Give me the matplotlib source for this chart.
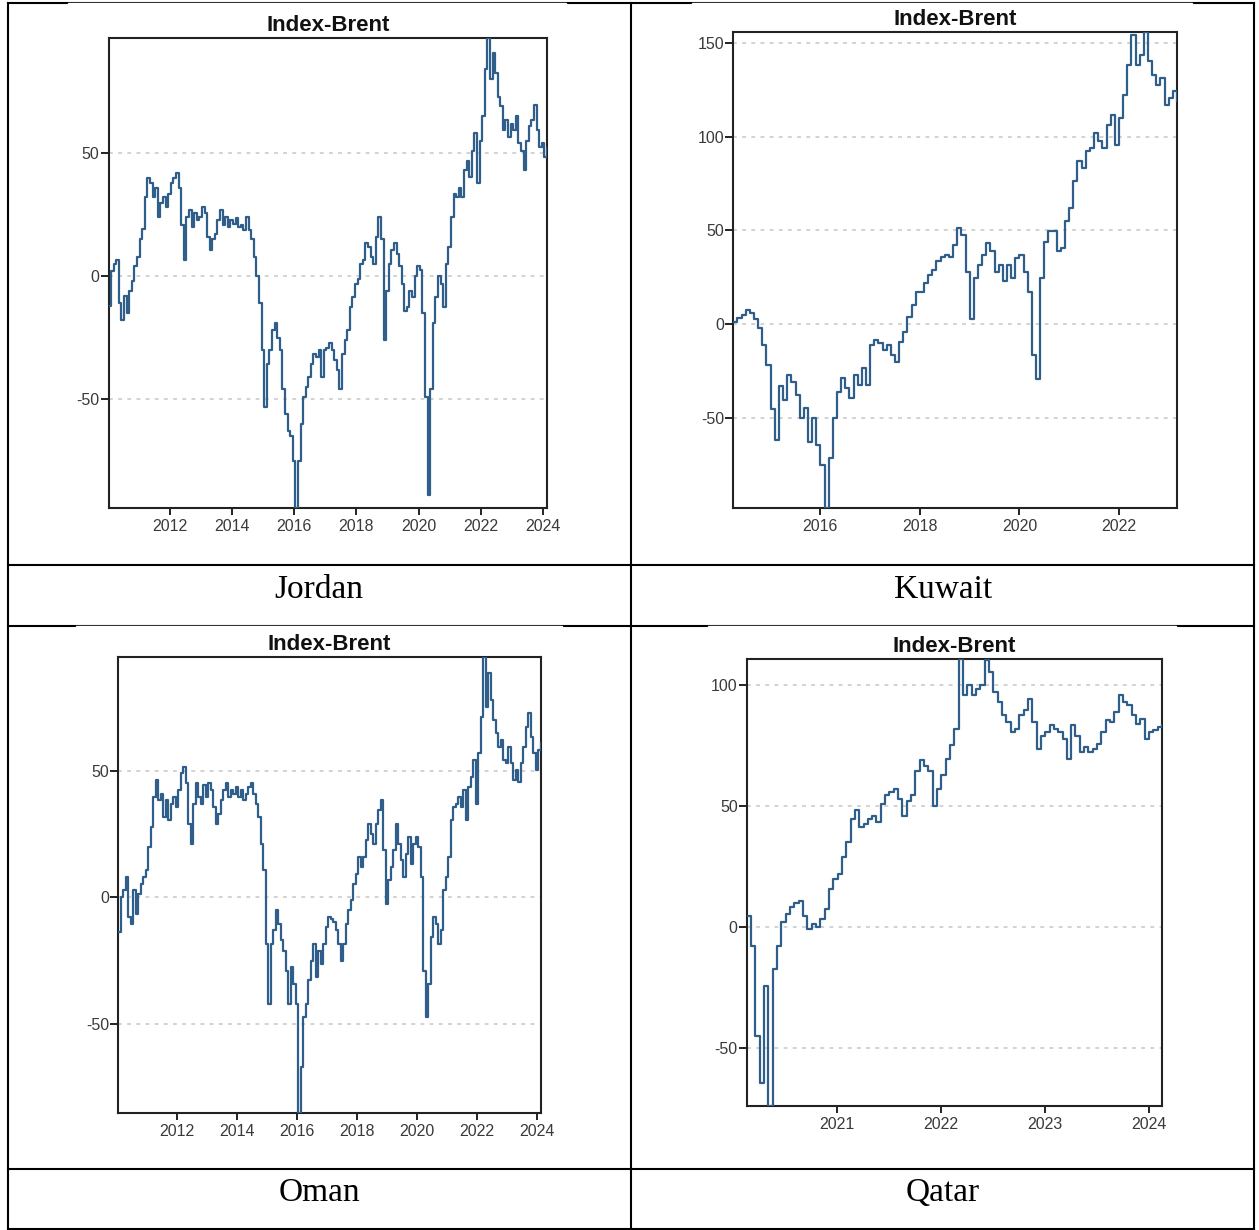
import numpy as np
import matplotlib
matplotlib.use("Agg")
import matplotlib.pyplot as plt
from matplotlib.patches import Rectangle

plt.rcParams['font.family'] = ['Liberation Sans', 'DejaVu Sans']
plt.rcParams['axes.unicode_minus'] = False

# Index minus Brent, monthly (Qatar half-monthly) observations
jordan_start = 2010.04
jordan = [
    -12, 2, 5, 6.5, -11, -18, -8, -15, -6, -2,
    4, 8, 15, 19, 32, 40, 38, 32, 36, 24,
    29.6, 32, 28, 33.6, 38, 40, 42, 36, 21, 6.5,
    24, 27, 20, 25.5, 23, 24, 28, 25.5, 16, 10.6,
    15, 17, 23, 27, 21, 24, 20, 23, 21.4, 23.5,
    20, 21, 18.7, 24, 18.7, 15, 8, 0, -11, -30,
    -53, -35.5, -30, -22, -19, -25, -30, -46, -56, -63,
    -65, -75, -94, -75, -60, -49, -45, -41, -35.5, -31.5,
    -33, -30, -41, -30, -29, -27, -30, -34, -38, -46,
    -31.5, -26, -22, -12.5, -8.4, -3, -1, 5, 6.5, 13.3,
    12, 8, 5, 16, 24, 15, -26, -6, 5, 10.6,
    13.3, 9, 4, -3, -14, -12.5, -6, -8.4, 0, 4,
    2.4, -15, -49, -89, -46, -19, -8.4, 0, -3, -12.5,
    5, 12, 24, 33.6, 32, 36, 32, 43, 47, 40.4,
    51, 58, 38, 55, 65, 84, 97, 80, 90.6, 82.5,
    73, 69, 59.4, 63.5, 56.7, 62, 59.4, 65, 54, 51,
    43, 55, 61, 63.5, 69.6, 59.4, 52.6, 54, 48.6, 52,
]

kuwait_start = 2014.25
kuwait = [
    1.4, 3.2, 5, 7.7, 5.9, 2.8, -2.1, -11, -21.7, -45,
    -62, -33, -40.4, -27, -30.6, -37.7, -50.2, -44.8, -62.6, -50.2,
    -64.4, -75, -98, -71.5, -50.2, -36, -28.8, -34.2, -39.5, -27,
    -32.4, -23.5, -32.4, -11, -8.4, -10.1, -13.7, -11, -16.4, -20,
    -9.3, -3.9, 4.1, 10.3, 17.4, 17.4, 21.9, 26.3, 29, 33.5,
    36.1, 37, 36.1, 42.3, 51.2, 47.7, 28.1, 3, 24.6, 31.7,
    37, 43.2, 38.8, 28.1, 31.7, 22.8, 31.7, 24.6, 35.2, 37,
    28.1, 17.4, -16.4, -29, 24.6, 44.1, 49.5, 49.5, 38.8, 40.6,
    54.8, 61.9, 76.2, 86.8, 83.3, 92.2, 94, 102, 97.5, 94,
    106.4, 111.7, 95.7, 110, 122.4, 138.4, 154.4, 138.4, 143.8, 156,
    140.2, 133.1, 127.8, 131.3, 117, 120.6, 124.2, 118.9,
]

oman_start = 2010.04
oman = [
    -13.7, 0, 2.8, 8, -7.8, -10.4, 2.8, -6.5, 1.5, 5.4,
    8, 10.7, 20, 27.8, 39.7, 46.3, 38.4, 41, 31.8, 38.4,
    30.5, 37, 39.7, 35.8, 42.3, 49, 51.6, 45, 29, 21.2,
    37, 45, 39.7, 37, 44.3, 39.7, 45, 42.3, 35.8, 29,
    33, 38.4, 42.3, 45, 39.7, 42.3, 41, 43.7, 39.7, 42.3,
    38.4, 41, 43.7, 45, 41, 37, 31.8, 21.2, 10.7, -18.3,
    -42, -18.3, -13, -5.1, -10.4, -17, -21, -28.9, -42, -27.6,
    -34, -42, -85, -67, -47.4, -42, -32.8, -25, -18.3, -31.5,
    -21, -26.3, -18.3, -11.7, -7.8, -8.4, -9.8, -13, -18.3, -25,
    -18.3, -10.4, -5.1, -1.2, 5.4, 9.4, 16, 12, 16, 22.6,
    29, 25.2, 21.2, 29, 34.4, 38.4, 18.6, -2.5, 6.7, 12,
    18.6, 29, 21.2, 14.6, 8, 17, 23.9, 13.3, 21.2, 23.9,
    20, 8, -28.9, -47.4, -34, -15.7, -7.8, -10.4, -18.3, -13,
    2.8, 8, 16, 30.5, 35.8, 37, 39.7, 35.8, 42.3, 30.5,
    43.7, 47.6, 54.2, 37, 56.9, 71.4, 94.9, 75.3, 88.5, 78,
    70, 64.8, 59.5, 62.1, 54.2, 52.9, 59.5, 52.9, 46.3, 50.3,
    45.6, 52.9, 59.5, 67.4, 72.7, 63.5, 56.9, 50.3, 58.2, 60.8,
]

qatar_start = 2020.13
qatar = [
    4.6, -7.9, -45.2, -64.5, -24.4, -74.2, -17.5, -7.9, 1.8, 5.2,
    8, 10, 10.8, 4.6, -1, 1.1, -0.3, 3.2, 7.3, 15.6,
    19.8, 21.8, 28.7, 34.9, 44.6, 48.1, 41.2, 42.5, 44.6, 46,
    43.2, 50.8, 54.3, 55.7, 57, 52.9, 46, 52.2, 54.3, 64.6,
    68.8, 66.7, 64.6, 50.1, 57, 62.6, 69.5, 75, 81.9, 110.9,
    95.7, 99.9, 95.7, 98.5, 99.9, 110.2, 105.4, 97.1, 93, 87.4,
    84.7, 80.5, 81.9, 87.4, 89.5, 94.3, 84.7, 73.6, 79.1, 80.5,
    83.3, 81.9, 80.5, 77.8, 69.5, 83.3, 79.1, 72.2, 74.3, 72.2,
    73.6, 75.7, 80.5, 85.4, 84.7, 88.8, 95.7, 93, 91.6, 87.4,
    84, 86, 77.8, 80.5, 81.2, 82.6, 83.3,
]

long_years = [2012, 2014, 2016, 2018, 2020, 2022, 2024]
kuwait_years = [2016, 2018, 2020, 2022]
qatar_years = [2021, 2022, 2023, 2024]

W, H = 1259, 1230
LINE = '#2f5e8a'

fig = plt.figure(figsize=(W / 100, H / 100), dpi=100)

# table grid drawn in pixel coordinates
bg = fig.add_axes([0, 0, 1, 1])
bg.set_xlim(0, W)
bg.set_ylim(H, 0)
bg.axis('off')
for y in [3, 565, 626, 1169, 1229]:
    bg.plot([8, 1254], [y, y], color='black', lw=1.5, solid_capstyle='projecting')
for x in [8, 631, 1254]:
    bg.plot([x, x], [3, 1229], color='black', lw=1.5, solid_capstyle='projecting')

# pasted chart images sit slightly over the top rule of each cell
for x0, x1, y in [(68, 566, 3), (692, 1192, 3), (76, 562, 626), (708, 1176, 626)]:
    bg.add_patch(Rectangle((x0, y + 0.2), x1 - x0, 10, color='white', zorder=3))

for name, cx, base in [('Jordan', 319, 598), ('Kuwait', 943, 598),
                       ('Oman', 319, 1201), ('Qatar', 943, 1201)]:
    bg.text(cx, base, name, fontsize=24, family='Liberation Serif',
            ha='center', va='baseline', color='black')


def panel(box, start, step, values, xticks, yticks):
    left, top, right, bottom = box
    ax = fig.add_axes([left / W, 1 - bottom / H, (right - left) / W, (bottom - top) / H])
    x = start + np.arange(len(values)) * step
    ax.plot(x, values, color=LINE, lw=1.6, drawstyle='steps-post', zorder=3)
    ax.set_xlim(x[0], x[-1])
    ax.set_ylim(min(values), max(values))
    ax.set_xticks(xticks)
    ax.set_xticklabels([str(v) for v in xticks])
    ax.set_yticks(yticks)
    ax.set_yticklabels([str(v) for v in yticks])
    for y in yticks:
        ax.axhline(y, color='#c6c6c6', lw=1.1, ls=(0, (2.5, 3.5)), zorder=1)
    for s in ax.spines.values():
        s.set_linewidth(1.5)
        s.set_color('#222222')
    ax.tick_params(axis='x', length=5, width=1.4, pad=3, labelsize=11.5,
                   labelcolor='#3a3a3a', color='#222222')
    ax.tick_params(axis='y', length=6, width=1.4, pad=0.5, labelsize=11.5,
                   labelcolor='#3a3a3a', color='#222222')
    ax.set_title('Index-Brent', fontsize=16, fontweight='bold', pad=5, color='#111111')
    return ax


panel((108.5, 37.5, 547, 507.5), jordan_start, 1 / 12, jordan, long_years, [-50, 0, 50])
panel((733.3, 31.7, 1177, 508), kuwait_start, 1 / 12, kuwait, kuwait_years,
      [-50, 0, 50, 100, 150])
panel((118.3, 657, 541, 1112.7), oman_start, 1 / 12, oman, long_years, [-50, 0, 50])
panel((746.7, 658.7, 1162, 1106), qatar_start, 1 / 24, qatar, qatar_years,
      [-50, 0, 50, 100])

fig.savefig('out.png', dpi=100, facecolor='white')
